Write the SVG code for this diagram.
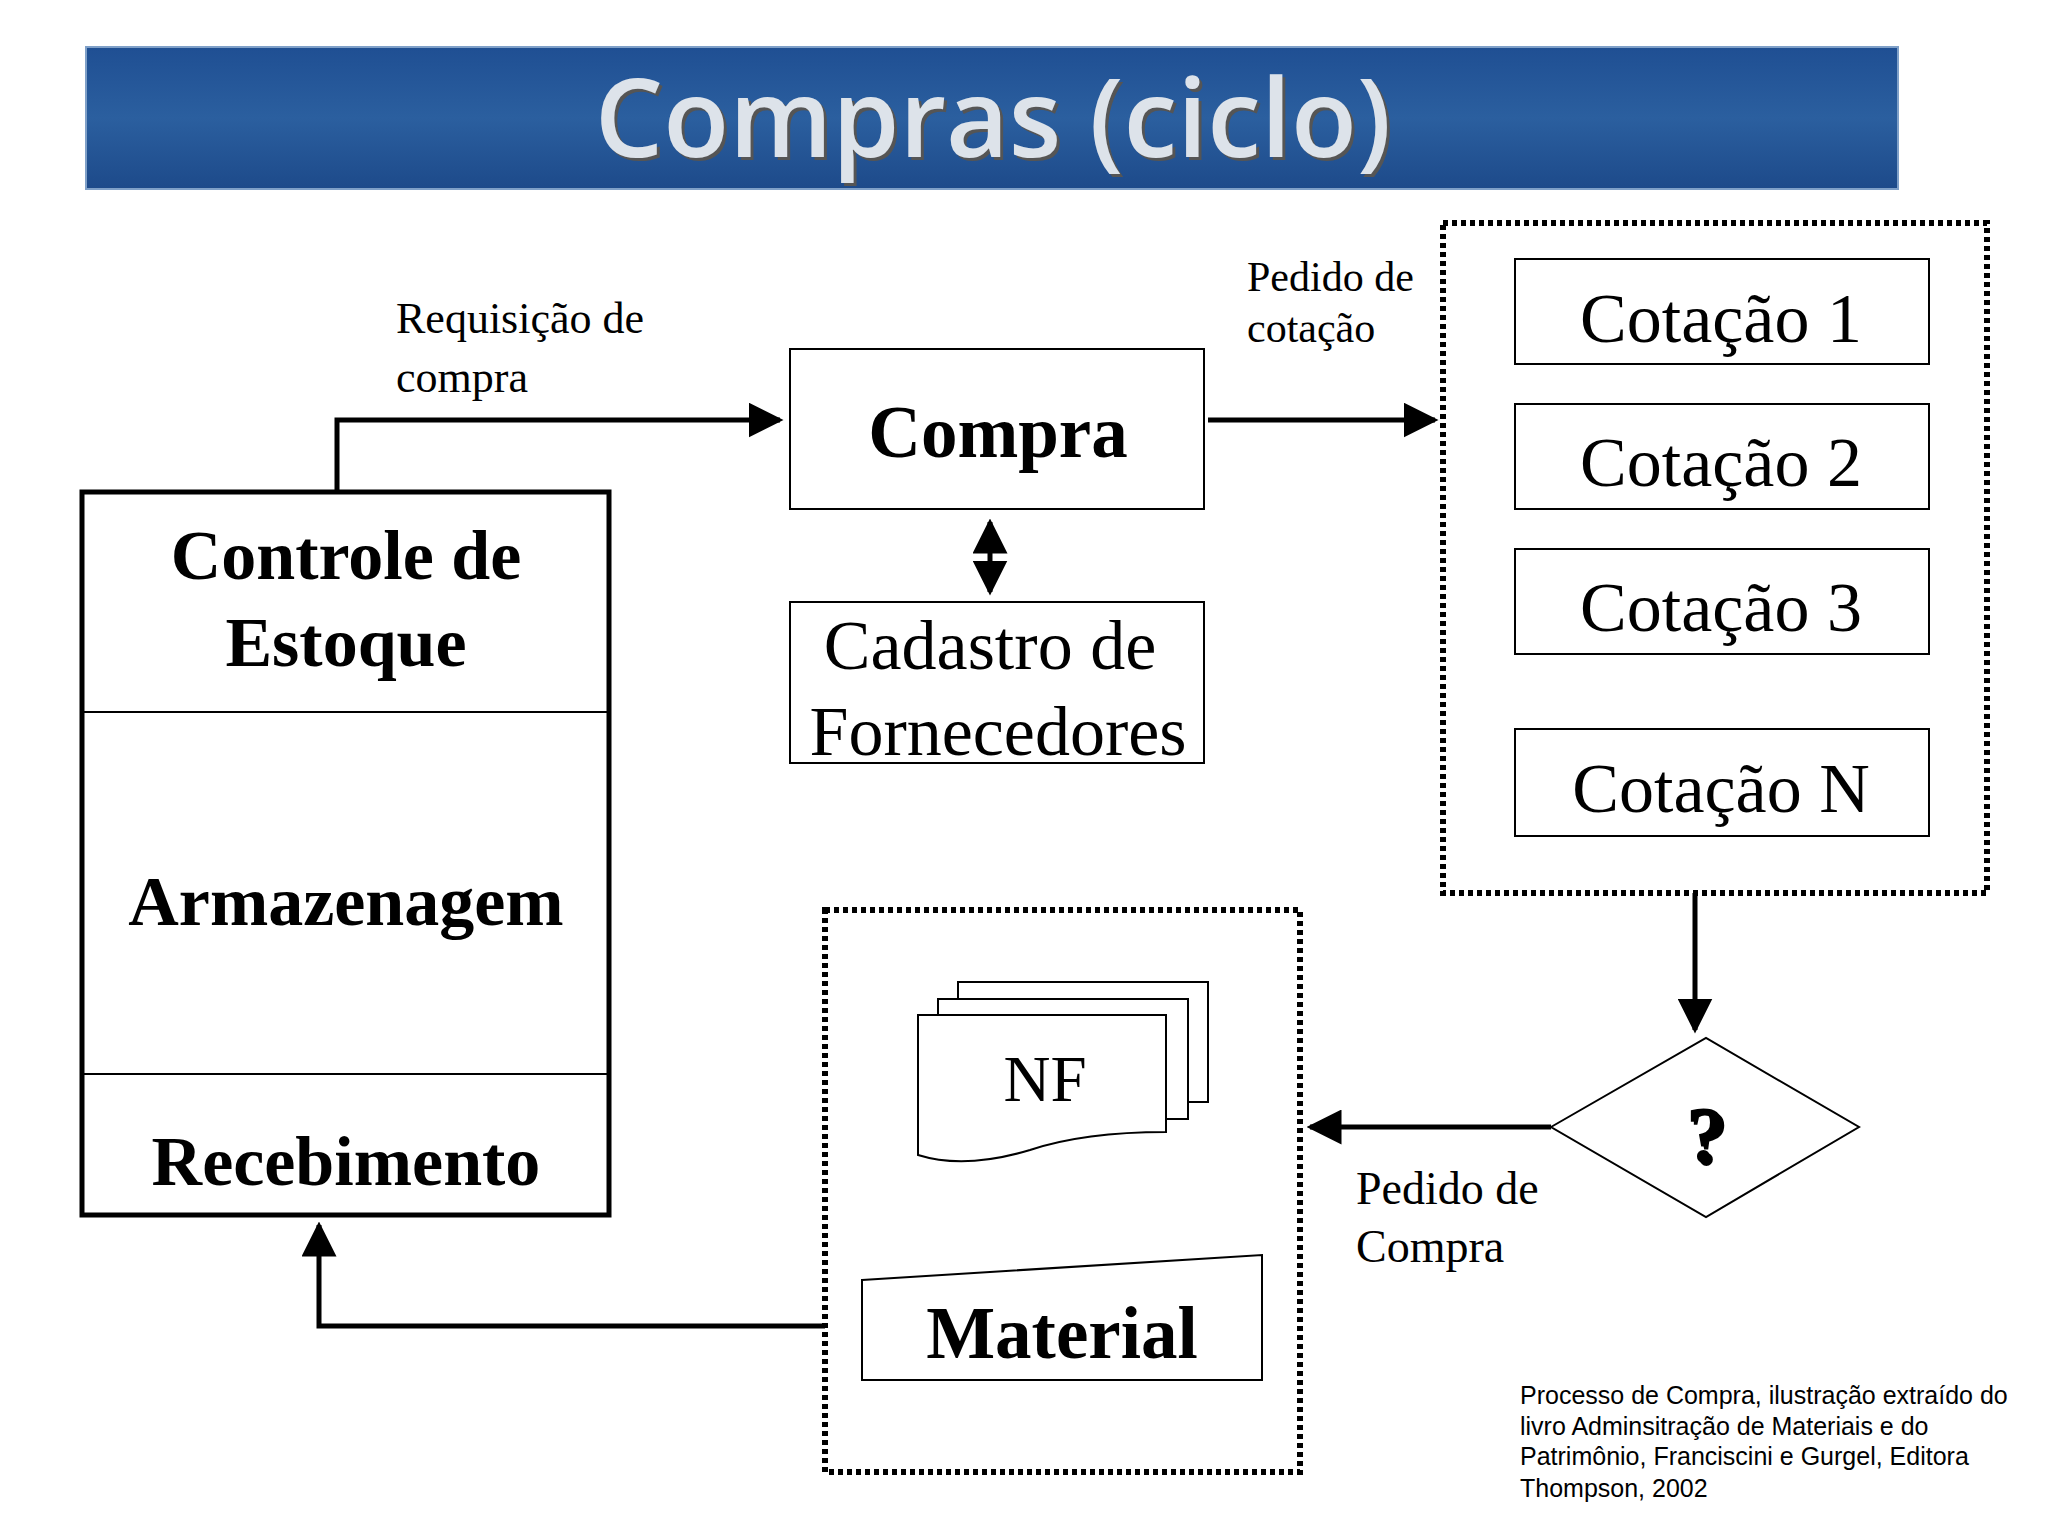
<svg xmlns="http://www.w3.org/2000/svg" width="2048" height="1536" viewBox="0 0 2048 1536">
<style>
.b{fill:#fff;stroke:#000;stroke-width:2}
.s{font-family:"Liberation Serif",serif;fill:#000}
.bold{font-weight:bold}
.c{stroke:#000;stroke-width:5;fill:none}
.d{fill:none;stroke:#000;stroke-width:6;stroke-dasharray:5,4}
</style>
<defs>
<linearGradient id="g" x1="0" y1="0" x2="0" y2="1"><stop offset="0" stop-color="#1f4f93"/><stop offset="0.5" stop-color="#2b5f9f"/><stop offset="1" stop-color="#1d4a8a"/></linearGradient>
<marker id="a" viewBox="0 0 10 10" refX="9" refY="5" markerWidth="7" markerHeight="7" markerUnits="strokeWidth" orient="auto-start-reverse"><path d="M0,0L10,5L0,10z" fill="#000"/></marker>
</defs>
<rect width="2048" height="1536" fill="#fff"/>
<g id="title">
<rect x="86" y="47" width="1812" height="142" fill="url(#g)" stroke="#7fa0c8" stroke-width="2"/>
<text x="996" y="160" font-family="Open Sans,sans-serif" font-size="108" font-weight="600" text-anchor="middle" fill="#555">Compras (ciclo)</text>
<text x="993" y="157" font-family="Open Sans,sans-serif" font-size="108" font-weight="600" text-anchor="middle" fill="#dde3ea">Compras (ciclo)</text>
</g>
<g id="connectors">
<path class="c" d="M337,492V420H780" marker-end="url(#a)"/>
<path class="c" d="M1208,420H1435" marker-end="url(#a)"/>
<path class="c" d="M990,522V592" marker-start="url(#a)" marker-end="url(#a)"/>
<path class="c" d="M1695,893V1030" marker-end="url(#a)"/>
<path class="c" d="M1551,1127H1310" marker-end="url(#a)"/>
<path class="c" d="M825,1326H319V1225" marker-end="url(#a)"/>
</g>
<g id="labels" class="s">
<text x="396" y="333" font-size="44">Requisição de</text>
<text x="396" y="392" font-size="44">compra</text>
<text x="1247" y="291" font-size="42">Pedido de</text>
<text x="1247" y="342" font-size="42">cotação</text>
<text x="1356" y="1204" font-size="46">Pedido de</text>
<text x="1356" y="1262" font-size="46">Compra</text>
</g>
<g id="estoque">
<rect x="82" y="492" width="527" height="723" fill="#fff" stroke="#000" stroke-width="5"/>
<line x1="84" y1="712" x2="607" y2="712" stroke="#000" stroke-width="2"/>
<line x1="84" y1="1074" x2="607" y2="1074" stroke="#000" stroke-width="2"/>
<g class="s bold" font-size="70" text-anchor="middle">
<text x="346" y="579">Controle de</text>
<text x="346" y="666">Estoque</text>
<text x="346" y="925">Armazenagem</text>
<text x="346" y="1185">Recebimento</text>
</g>
</g>
<g id="compra"><rect class="b" x="790" y="349" width="414" height="160"/>
<text class="s bold" x="998" y="457" font-size="73" text-anchor="middle">Compra</text></g>
<g id="cadastro"><rect class="b" x="790" y="602" width="414" height="161"/>
<text class="s" x="990" y="669" font-size="70" text-anchor="middle">Cadastro de</text>
<text class="s" x="998" y="755" font-size="70" text-anchor="middle">Fornecedores</text></g>
<g id="cotacoes">
<rect class="d" x="1443" y="223" width="544" height="670"/>
<rect class="b" x="1515" y="259" width="414" height="105"/>
<rect class="b" x="1515" y="404" width="414" height="105"/>
<rect class="b" x="1515" y="549" width="414" height="105"/>
<rect class="b" x="1515" y="729" width="414" height="107"/>
<g class="s" font-size="70" text-anchor="middle">
<text x="1721" y="342">Cotação 1</text>
<text x="1721" y="486">Cotação 2</text>
<text x="1721" y="631">Cotação 3</text>
<text x="1721" y="812">Cotação N</text>
</g>
</g>
<g id="decisao"><path class="b" d="M1551,1127L1706,1038L1859,1127L1706,1217z"/>
<text x="1709" y="1165" class="s bold" font-size="80" text-anchor="middle" fill="#888">?</text>
<text x="1706" y="1162" class="s bold" font-size="80" text-anchor="middle">?</text></g>
<g id="recebido">
<rect class="d" x="825" y="910" width="475" height="562"/>
<rect class="b" x="958" y="982" width="250" height="120"/>
<rect class="b" x="938" y="999" width="250" height="120"/>
<path class="b" d="M918,1015H1166V1132C1100,1132 1060,1140 1030,1150C990,1162 950,1165 918,1155z"/>
<text class="s" x="1045" y="1101" font-size="65" text-anchor="middle">NF</text>
<path class="b" d="M862,1280L1262,1255V1380H862z"/>
<text class="s bold" x="1062" y="1358" font-size="73" text-anchor="middle">Material</text>
</g>
<g id="nota" font-family="Liberation Sans,sans-serif" font-size="25">
<text x="1520" y="1404">Processo de Compra, ilustração extraído do</text>
<text x="1520" y="1435">livro Adminsitração de Materiais e do</text>
<text x="1520" y="1465">Patrimônio, Franciscini e Gurgel, Editora</text>
<text x="1520" y="1497">Thompson, 2002</text>
</g>
</svg>
